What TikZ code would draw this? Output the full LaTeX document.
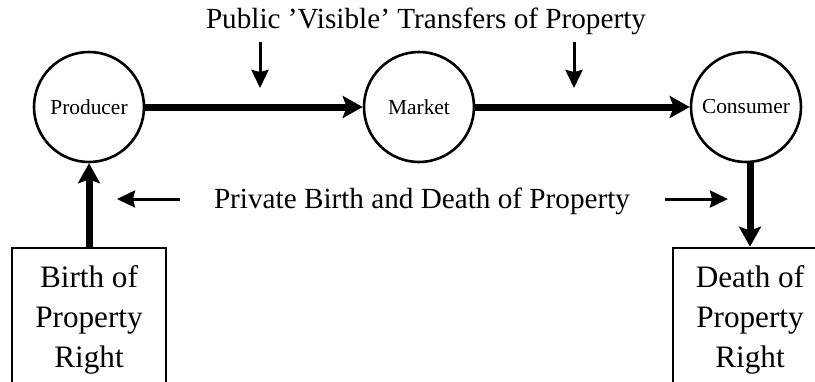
\documentclass[tikz,border=0pt]{standalone}
\usepackage{fontspec}
\setmainfont{Liberation Serif}
\usetikzlibrary{arrows.meta}

\tikzset{
  station/.style={draw, circle, line width=1.3pt, minimum size=55pt, inner sep=0pt, font=\fontsize{10.7}{12}\selectfont},
  rightsbox/.style={draw, rectangle, line width=1.3pt, minimum width=77pt, minimum height=72pt, align=center, font=\fontsize{15.6}{20}\selectfont},
  flow/.style={line width=3.5pt, -{Stealth[length=10pt,width=11pt,inset=2pt]}},
  hint/.style={line width=1.5pt, -{Stealth[length=9pt,width=8.5pt,inset=1pt]}},
  heading/.style={font=\fontsize{14.6}{17}\selectfont, anchor=base},
}

\begin{document}
\begin{tikzpicture}[x=0.5pt,y=-0.5pt]
\useasboundingbox (0,0) rectangle (815,381);
\clip (0,0) rectangle (815,381);
% the three places of the chain
\node[station] (producer) at (89,107) {Producer};
\node[station] (market) at (419,107) {Market};
\node[station] (consumer) at (746,107) {Consumer};
% birth and death of the right
\node[rightsbox] (birth) at (89,320) {Birth of\\Property\\Right};
\node[rightsbox] (death) at (750,320) {Death of\\Property\\Right};
% texts
\node[heading] (public) at (426,28) {Public 'Visible' Transfers of Property};
\node[heading] (private) at (422,208) {Private Birth and Death of Property};
% free ends of the small arrows
\coordinate (pubtailA) at (260,42);
\coordinate (pubtipA) at (260,88);
\coordinate (pubtailB) at (574,42);
\coordinate (pubtipB) at (574,88);
\coordinate (privtailA) at (180,199);
\coordinate (privtipA) at (117,199);
\coordinate (privtailB) at (665,199);
\coordinate (privtipB) at (728,199);

\path[draw,flow] (producer) -- (market);
\path[draw,flow] (market) -- (consumer);
\path[draw,flow] (birth.north) -- (producer.south);
\path[draw,flow] (death.north |- consumer.south) -- (death.north);

\path[draw,hint] (pubtailA) -- (pubtipA);
\path[draw,hint] (pubtailB) -- (pubtipB);
\path[draw,hint] (privtailA) -- (privtipA);
\path[draw,hint] (privtailB) -- (privtipB);
\end{tikzpicture}
\end{document}
